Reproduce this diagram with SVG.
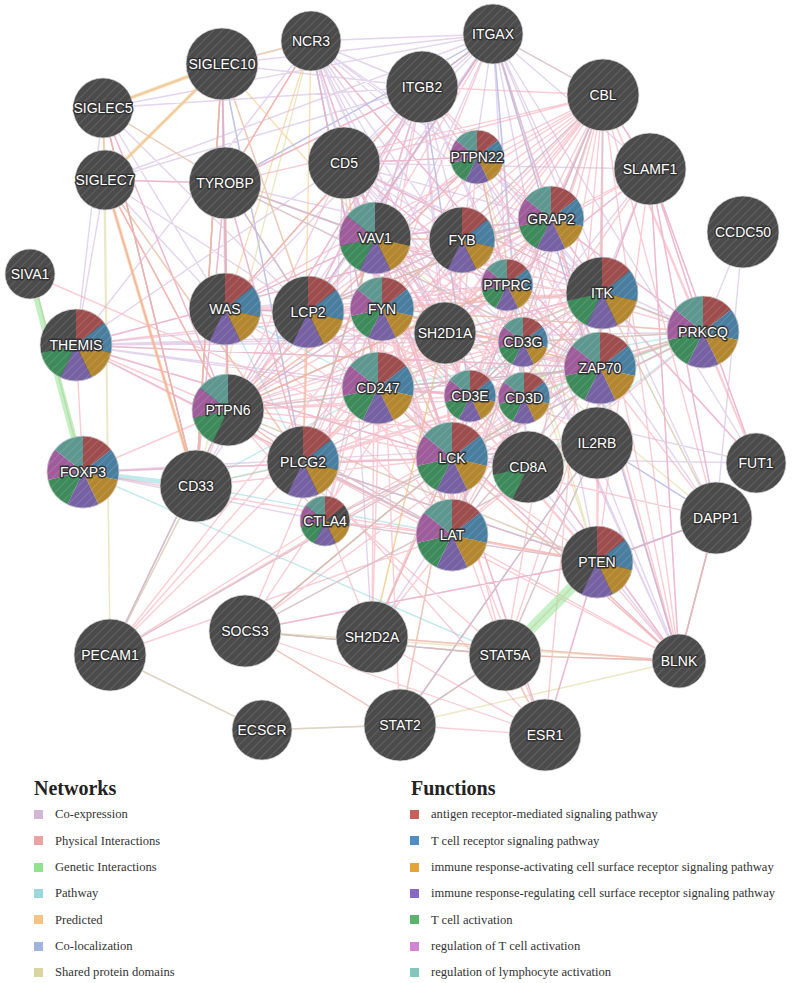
<svg xmlns="http://www.w3.org/2000/svg" xmlns:xlink="http://www.w3.org/1999/xlink" width="800" height="983" viewBox="0 0 800 983">
<style>
.e{fill:none;stroke-width:1.4;stroke-opacity:.55;stroke-linecap:round}
.coe{stroke:#cdb0e0}
.phy{stroke:#f7a2b0}
.gen{stroke:#8ee38e}
.pat{stroke:#8fd8e0}
.pre{stroke:#f8c27c}
.col{stroke:#9fb4e6}
.dom{stroke:#dcd598}
.bg{fill:#4b4b4b}
.hc{fill:url(#h);stroke:#d8d8d8;stroke-width:1;stroke-opacity:.7}
.lbl{font-family:"Liberation Sans",Arial,sans-serif;font-size:14px;fill:#fff;text-anchor:middle;dominant-baseline:central;stroke:#333;stroke-width:2.8;stroke-linejoin:round;paint-order:stroke}
.lt{font-family:"Liberation Serif","DejaVu Serif",serif;font-size:20px;font-weight:bold;fill:#222}
.li{font-family:"Liberation Serif","DejaVu Serif",serif;font-size:12.6px;fill:#333}
</style>
<defs>
<pattern id="h" width="6" height="6" patternUnits="userSpaceOnUse" patternTransform="rotate(45)"><line x1="0" y1="0" x2="0" y2="6" stroke="#fff" stroke-opacity=".2" stroke-width="1.3"/></pattern>
<g id="pie7">
<path id="s0" fill="#9e4d4e" d="M0 0L0-100A100 100 0 0 1 78.18-62.35Z"/>
<path id="s1" fill="#4a7e9f" d="M0 0L78.18-62.35A100 100 0 0 1 97.49 22.25Z"/>
<path id="s2" fill="#b3872f" d="M0 0L97.49 22.25A100 100 0 0 1 43.39 90.1Z"/>
<path id="s3" fill="#7661a2" d="M0 0L43.39 90.1A100 100 0 0 1-43.39 90.1Z"/>
<path id="s4" fill="#3e8a5b" d="M0 0L-43.39 90.1A100 100 0 0 1-97.49 22.25Z"/>
<path id="s5" fill="#9e5c9b" d="M0 0L-97.49 22.25A100 100 0 0 1-78.18-62.35Z"/>
<path id="s6" fill="#5e978f" d="M0 0L-78.18-62.35A100 100 0 0 1 0-100Z"/>
</g>
</defs>
<rect width="800" height="983" fill="#fff"/>
<g id="connectors">
<path class="e coe" d="M493 34 422 87M493 34 225 183M493 34 308 312M493 34 507 285M493 34 196 486M493 34 222 64M493 34 103 108M493 34 105 180M493 34 311 41M493 34 225 309M493 34 228 410M493 34 602 293M493 34 650 169M493 34 344 163M493 34 303 462M493 34 462 240M493 34 716 518M493 34 679 661M493 34 756 463M493 34 528 467M493 34 597 562M422 87 225 183M422 87 308 312M422 87 507 285M422 87 196 486M422 87 222 64M422 87 103 108M422 87 105 180M422 87 311 41M422 87 225 309M422 87 375 238M422 87 228 410M422 87 602 293M422 87 344 163M422 87 303 462M422 87 462 240M422 87 445 333M422 87 716 518M422 87 470 396M422 87 452 458M422 87 325 521M422 87 679 661M311 41 378 388M311 41 452 458M311 41 600 368M311 41 602 293M311 41 344 163M311 41 445 333M311 41 524 398M311 41 523 342M311 41 470 396M311 41 528 467M311 41 76 345M311 41 551 219M311 41 703 332M311 41 222 64M311 41 225 183M311 41 477 157M311 41 452 535M222 64 103 108M222 64 105 180M222 64 196 486M222 64 225 183M222 64 225 309M222 64 308 312M222 64 228 410M222 64 303 462M103 108 105 180M103 108 196 486M103 108 225 183M103 108 225 309M103 108 308 312M103 108 228 410M103 108 76 345M105 180 196 486M105 180 225 183M105 180 225 309M105 180 228 410M105 180 308 312M105 180 303 462M105 180 76 345M344 163 523 342M344 163 524 398M344 163 470 396M344 163 378 388M344 163 452 458M344 163 602 293M344 163 600 368M344 163 452 535M344 163 528 467M344 163 445 333M344 163 76 345M344 163 703 332M344 163 551 219M344 163 462 240M344 163 325 521M344 163 477 157M344 163 597 443M743 232 703 332M743 232 716 518M650 169 445 333M650 169 602 293M650 169 528 467M650 169 703 332M650 169 756 463M650 169 716 518M650 169 679 661M650 169 344 163M650 169 470 396M756 463 470 396M756 463 452 458M756 463 477 157M716 518 679 661M716 518 597 562M716 518 597 443M716 518 602 293M679 661 477 157M679 661 375 238M679 661 308 312M679 661 505 655M679 661 507 285M679 661 470 396M523 342 524 398M523 342 470 396M470 396 524 398M378 388 470 396M452 458 602 293M602 293 470 396M445 333 602 293M528 467 452 458M528 467 524 398M76 345 452 458M76 345 602 293M76 345 470 396M76 345 445 333M76 345 452 535M76 345 600 368M76 345 378 388M76 345 703 332M76 345 523 342M76 345 551 219M225 309 375 238M225 309 308 312M225 309 228 410M225 309 507 285M225 183 308 312M225 183 228 410M225 183 196 486M225 183 303 462M225 183 225 309M225 183 375 238M225 183 462 240M225 183 507 285M110 655 262 730M110 655 196 486M110 655 228 410M262 730 400 725M400 725 597 443M400 725 505 655M245 631 597 562M245 631 505 655M372 637 452 458M372 637 602 293M372 637 344 163M597 443 452 458M597 443 528 467M597 443 344 163M597 562 303 462M597 562 228 410M83 472 452 458M83 472 325 521M83 472 597 443M477 157 507 285M477 157 308 312M477 157 228 410M551 219 602 293M551 219 445 333M603 95 650 169M545 735 452 458M545 735 597 562"/>
<path class="e col" d="M493 34 422 87M493 34 308 312M493 34 225 183M493 34 600 368M716 518 679 661M378 388 600 368M452 458 528 467M222 64 228 410M222 64 196 486M103 108 196 486M311 41 378 388M422 87 470 396M493 34 679 661M716 518 597 443M225 309 308 312M225 183 228 410M382 309 228 410M603 95 452 458M507 285 228 410M462 240 308 312M375 238 551 219M597 562 716 518M222 64 303 462M493 34 524 398"/>
<path class="e dom" d="M105 180 110 655M103 108 110 655M222 64 196 486M105 180 196 486M103 108 222 64M105 180 222 64M245 631 505 655M245 631 400 725M505 655 400 725M679 661 505 655M679 661 245 631M679 661 400 725M679 661 372 637M679 661 452 458M372 637 445 333M372 637 452 458M245 631 452 458M400 725 452 458M716 518 679 661M716 518 602 293M716 518 375 238M228 410 477 157M228 410 507 285M477 157 507 285M597 562 228 410M597 562 477 157M597 562 507 285M523 342 470 396M523 342 524 398M470 396 524 398M602 293 600 368M452 458 382 309M452 458 602 293M382 309 602 293M600 368 382 309M600 368 452 458M703 332 452 458M703 332 382 309M703 332 602 293M303 462 375 238M303 462 551 219M308 312 551 219M110 655 196 486M196 486 311 41M110 655 262 730M545 735 505 655M262 730 400 725"/>
<path class="e pre" style="stroke-width:3.5" d="M103 108 222 64M105 180 222 64M105 180 196 486"/>
<path class="e pre" d="M103 108 105 180M222 64 311 41M103 108 196 486M222 64 196 486M105 180 228 410M103 108 225 183M225 183 311 41M225 183 228 410M375 238 462 240M308 312 551 219M303 462 308 312M452 458 378 388M470 396 524 398M228 410 303 462M196 486 303 462M311 41 225 309M222 64 308 312M105 180 303 462M382 309 600 368M452 535 597 562M445 333 372 637M462 240 228 410M375 238 303 462M507 285 228 410M344 163 378 388M452 458 245 631M222 64 375 238M422 87 225 309M311 41 303 462"/>
<path class="e pat" style="stroke-width:5" d="M83 472 196 486"/>
<path class="e pat" d="M83 472 505 655M602 293 703 332M452 458 378 388M452 458 600 368M600 368 452 535M452 535 303 462M303 462 375 238M375 238 308 312M308 312 551 219M551 219 462 240M470 396 524 398M523 342 470 396M378 388 600 368M597 443 505 655M245 631 505 655M400 725 505 655M400 725 597 443M245 631 597 443M196 486 303 462M196 486 452 535M228 410 452 535M110 655 228 410M493 34 422 87M493 34 603 95M225 183 308 312M225 183 600 368M225 183 375 238M228 410 600 368M303 462 602 293M196 486 378 388M325 521 452 458M325 521 597 562M597 562 303 462M110 655 452 458M245 631 452 458M225 309 378 388M225 309 303 462M382 309 523 342M382 309 470 396M382 309 603 95M603 95 600 368M603 95 452 535M603 95 551 219M602 293 452 535M703 332 452 458M703 332 378 388M703 332 600 368M703 332 528 467"/>
<path class="e gen" d="M703 332 523 342M703 332 524 398M703 332 470 396M600 368 452 458M602 293 378 388"/>
<path class="e phy" d="M452 458 375 238M452 458 462 240M452 458 551 219M452 458 507 285M452 458 602 293M452 458 308 312M452 458 382 309M452 458 445 333M452 458 523 342M452 458 378 388M452 458 470 396M452 458 524 398M452 458 600 368M452 458 228 410M452 458 303 462M452 458 528 467M452 458 452 535M452 458 325 521M452 458 477 157M452 458 225 309M452 458 703 332M452 458 603 95M382 309 375 238M382 309 462 240M382 309 551 219M382 309 507 285M382 309 602 293M382 309 308 312M382 309 445 333M382 309 523 342M382 309 378 388M382 309 470 396M382 309 524 398M382 309 600 368M382 309 228 410M382 309 303 462M382 309 452 535M382 309 325 521M382 309 477 157M382 309 225 309M382 309 703 332M382 309 603 95M382 309 528 467M600 368 375 238M600 368 462 240M600 368 551 219M600 368 507 285M600 368 602 293M600 368 308 312M600 368 445 333M600 368 523 342M600 368 378 388M600 368 470 396M600 368 524 398M600 368 228 410M600 368 303 462M600 368 452 535M600 368 325 521M600 368 477 157M600 368 225 309M600 368 703 332M600 368 603 95M600 368 528 467M452 535 375 238M452 535 462 240M452 535 551 219M452 535 507 285M452 535 602 293M452 535 308 312M452 535 445 333M452 535 523 342M452 535 378 388M452 535 470 396M452 535 524 398M452 535 228 410M452 535 303 462M452 535 325 521M452 535 225 309M452 535 703 332M452 535 603 95M452 535 528 467M378 388 375 238M378 388 462 240M378 388 551 219M378 388 507 285M378 388 602 293M378 388 308 312M378 388 445 333M378 388 523 342M378 388 470 396M378 388 524 398M378 388 228 410M378 388 303 462M378 388 603 95M378 388 528 467M378 388 325 521M375 238 462 240M375 238 551 219M375 238 507 285M375 238 602 293M375 238 308 312M375 238 445 333M375 238 523 342M375 238 470 396M375 238 524 398M375 238 228 410M375 238 303 462M375 238 225 309M375 238 603 95M375 238 703 332M308 312 462 240M308 312 551 219M308 312 507 285M308 312 602 293M308 312 445 333M308 312 523 342M308 312 470 396M308 312 524 398M308 312 228 410M308 312 303 462M308 312 225 309M308 312 603 95M602 293 462 240M602 293 551 219M602 293 507 285M602 293 445 333M602 293 523 342M602 293 470 396M602 293 524 398M602 293 228 410M602 293 303 462M602 293 225 309M602 293 603 95M602 293 703 332M303 462 462 240M303 462 551 219M303 462 507 285M303 462 445 333M303 462 470 396M303 462 524 398M303 462 228 410M303 462 603 95M303 462 703 332M303 462 325 521M603 95 462 240M603 95 551 219M603 95 507 285M603 95 445 333M603 95 523 342M603 95 470 396M603 95 524 398M603 95 228 410M603 95 703 332M603 95 477 157M603 95 225 309M228 410 507 285M228 410 445 333M228 410 470 396M228 410 524 398M228 410 523 342M228 410 325 521M228 410 225 309M228 410 462 240M470 396 524 398M470 396 523 342M523 342 524 398M507 285 523 342M507 285 470 396M507 285 524 398M445 333 523 342M445 333 470 396M507 285 551 219M507 285 462 240M507 285 445 333M507 285 477 157M551 219 462 240M551 219 445 333M551 219 703 332M445 333 462 240M650 169 445 333M650 169 382 309M650 169 452 458M650 169 703 332M650 169 756 463M650 169 716 518M650 169 602 293M650 169 228 410M650 169 603 95M650 169 597 562M650 169 679 661M756 463 703 332M756 463 603 95M756 463 602 293M716 518 452 458M716 518 603 95M716 518 597 562M716 518 679 661M716 518 600 368M597 562 452 458M597 562 603 95M597 562 382 309M597 562 452 535M597 562 303 462M597 562 600 368M597 562 505 655M597 562 602 293M597 562 597 443M679 661 603 95M679 661 303 462M679 661 452 535M679 661 375 238M679 661 382 309M679 661 452 458M679 661 600 368M679 661 551 219M679 661 308 312M679 661 602 293M679 661 372 637M679 661 505 655M505 655 597 443M505 655 452 458M505 655 382 309M505 655 603 95M505 655 245 631M505 655 545 735M505 655 400 725M505 655 228 410M505 655 600 368M597 443 452 458M597 443 245 631M597 443 600 368M597 443 382 309M597 443 603 95M597 443 228 410M597 443 400 725M597 443 602 293M545 735 452 458M545 735 382 309M545 735 603 95M545 735 597 562M545 735 400 725M545 735 245 631M545 735 303 462M400 725 245 631M400 725 452 458M400 725 382 309M245 631 452 458M245 631 600 368M245 631 382 309M245 631 603 95M245 631 597 562M372 637 452 458M372 637 382 309M372 637 545 735M372 637 603 95M372 637 375 238M372 637 303 462M372 637 452 535M110 655 228 410M110 655 303 462M110 655 452 458M110 655 382 309M110 655 325 521M110 655 603 95M110 655 452 535M110 655 600 368M196 486 228 410M196 486 103 108M196 486 105 180M196 486 222 64M196 486 452 458M196 486 225 183M225 183 228 410M225 183 308 312M225 183 600 368M225 183 105 180M225 183 303 462M225 183 375 238M225 183 603 95M222 64 228 410M222 64 225 183M103 108 228 410M105 180 228 410M311 41 378 388M311 41 225 183M311 41 600 368M311 41 452 458M422 87 493 34M422 87 603 95M422 87 308 312M422 87 382 309M422 87 375 238M422 87 228 410M422 87 225 183M422 87 225 309M422 87 551 219M493 34 603 95M493 34 375 238M493 34 308 312M493 34 382 309M493 34 551 219M344 163 452 458M344 163 382 309M344 163 603 95M344 163 600 368M344 163 470 396M344 163 228 410M344 163 602 293M344 163 477 157M477 157 375 238M477 157 228 410M477 157 551 219M76 345 452 458M76 345 551 219M76 345 303 462M76 345 452 535M76 345 600 368M76 345 382 309M76 345 228 410M38 296 83 472M30 274 452 458M83 472 228 410M83 472 452 458M83 472 597 562M83 472 76 345M325 521 597 562M703 332 523 342M703 332 470 396"/>
<path class="e gen" style="stroke-width:6;stroke-opacity:.55" d="M30 274 83 472"/>
<path class="e gen" style="stroke-width:11;stroke-opacity:.5" d="M505 655 597 562"/>
</g>
<g id="nodes">
<g id="SIGLEC10" transform="translate(222 64)"><circle r="36" class="bg"/><circle r="36" class="hc"/><text class="lbl">SIGLEC10</text></g>
<g id="NCR3" transform="translate(311 41)"><circle r="30" class="bg"/><circle r="30" class="hc"/><text class="lbl">NCR3</text></g>
<g id="ITGAX" transform="translate(493 34)"><circle r="30" class="bg"/><circle r="30" class="hc"/><text class="lbl">ITGAX</text></g>
<g id="ITGB2" transform="translate(422 87)"><circle r="36" class="bg"/><circle r="36" class="hc"/><text class="lbl">ITGB2</text></g>
<g id="CBL" transform="translate(603 95)"><circle r="36" class="bg"/><circle r="36" class="hc"/><text class="lbl">CBL</text></g>
<g id="SIGLEC5" transform="translate(103 108)"><circle r="30" class="bg"/><circle r="30" class="hc"/><text class="lbl">SIGLEC5</text></g>
<g id="SIGLEC7" transform="translate(105 180)"><circle r="30" class="bg"/><circle r="30" class="hc"/><text class="lbl">SIGLEC7</text></g>
<g id="TYROBP" transform="translate(225 183)"><circle r="36" class="bg"/><circle r="36" class="hc"/><text class="lbl">TYROBP</text></g>
<g id="CD5" transform="translate(344 163)"><circle r="36" class="bg"/><circle r="36" class="hc"/><text class="lbl">CD5</text></g>
<g id="PTPN22" transform="translate(477 157)"><use href="#pie7" transform="scale(.27)"/><circle r="27" class="hc"/><text class="lbl">PTPN22</text></g>
<g id="VAV1" transform="translate(375 238)"><circle r="36" class="bg"/><use href="#s2" transform="scale(.36)"/><use href="#s3" transform="scale(.36)"/><use href="#s4" transform="scale(.36)"/><use href="#s5" transform="scale(.36)"/><use href="#s6" transform="scale(.36)"/><circle r="36" class="hc"/><text class="lbl">VAV1</text></g>
<g id="FYB" transform="translate(462 240)"><circle r="33" class="bg"/><use href="#s0" transform="scale(.33)"/><use href="#s1" transform="scale(.33)"/><use href="#s2" transform="scale(.33)"/><use href="#s3" transform="scale(.33)"/><circle r="33" class="hc"/><text class="lbl">FYB</text></g>
<g id="GRAP2" transform="translate(551 219)"><use href="#pie7" transform="scale(.33)"/><circle r="33" class="hc"/><text class="lbl">GRAP2</text></g>
<g id="SLAMF1" transform="translate(650 169)"><circle r="36" class="bg"/><circle r="36" class="hc"/><text class="lbl">SLAMF1</text></g>
<g id="CCDC50" transform="translate(743 232)"><circle r="36" class="bg"/><circle r="36" class="hc"/><text class="lbl">CCDC50</text></g>
<g id="SIVA1" transform="translate(30 274)"><circle r="25" class="bg"/><circle r="25" class="hc"/><text class="lbl">SIVA1</text></g>
<g id="THEMIS" transform="translate(76 345)"><circle r="36" class="bg"/><use href="#s0" transform="scale(.36)"/><use href="#s1" transform="scale(.36)"/><use href="#s2" transform="scale(.36)"/><use href="#s3" transform="scale(.36)"/><use href="#s4" transform="scale(.36)"/><circle r="36" class="hc"/><text class="lbl">THEMIS</text></g>
<g id="WAS" transform="translate(225 309)"><circle r="36" class="bg"/><use href="#s0" transform="scale(.36)"/><use href="#s1" transform="scale(.36)"/><use href="#s2" transform="scale(.36)"/><use href="#s3" transform="scale(.36)"/><circle r="36" class="hc"/><text class="lbl">WAS</text></g>
<g id="LCP2" transform="translate(308 312)"><circle r="36" class="bg"/><use href="#s0" transform="scale(.36)"/><use href="#s1" transform="scale(.36)"/><use href="#s2" transform="scale(.36)"/><use href="#s3" transform="scale(.36)"/><circle r="36" class="hc"/><text class="lbl">LCP2</text></g>
<g id="FYN" transform="translate(382 309)"><use href="#pie7" transform="scale(.32)"/><circle r="32" class="hc"/><text class="lbl">FYN</text></g>
<g id="SH2D1A" transform="translate(445 333)"><circle r="31" class="bg"/><circle r="31" class="hc"/><text class="lbl">SH2D1A</text></g>
<g id="PTPRC" transform="translate(507 285)"><use href="#pie7" transform="scale(.26)"/><circle r="26" class="hc"/><text class="lbl">PTPRC</text></g>
<g id="ITK" transform="translate(602 293)"><circle r="36" class="bg"/><use href="#s0" transform="scale(.36)"/><use href="#s1" transform="scale(.36)"/><use href="#s2" transform="scale(.36)"/><use href="#s3" transform="scale(.36)"/><use href="#s4" transform="scale(.36)"/><circle r="36" class="hc"/><text class="lbl">ITK</text></g>
<g id="PRKCQ" transform="translate(703 332)"><use href="#pie7" transform="scale(.36)"/><circle r="36" class="hc"/><text class="lbl">PRKCQ</text></g>
<g id="CD3G" transform="translate(523 342)"><use href="#pie7" transform="scale(.25)"/><circle r="25" class="hc"/><text class="lbl">CD3G</text></g>
<g id="CD247" transform="translate(378 388)"><use href="#pie7" transform="scale(.36)"/><circle r="36" class="hc"/><text class="lbl">CD247</text></g>
<g id="CD3E" transform="translate(470 396)"><use href="#pie7" transform="scale(.26)"/><circle r="26" class="hc"/><text class="lbl">CD3E</text></g>
<g id="CD3D" transform="translate(524 398)"><use href="#pie7" transform="scale(.26)"/><circle r="26" class="hc"/><text class="lbl">CD3D</text></g>
<g id="ZAP70" transform="translate(600 368)"><use href="#pie7" transform="scale(.36)"/><circle r="36" class="hc"/><text class="lbl">ZAP70</text></g>
<g id="PTPN6" transform="translate(228 410)"><circle r="36" class="bg"/><use href="#s4" transform="scale(.36)"/><use href="#s5" transform="scale(.36)"/><use href="#s6" transform="scale(.36)"/><circle r="36" class="hc"/><text class="lbl">PTPN6</text></g>
<g id="FOXP3" transform="translate(83 472)"><use href="#pie7" transform="scale(.36)"/><circle r="36" class="hc"/><text class="lbl">FOXP3</text></g>
<g id="CD33" transform="translate(196 486)"><circle r="36" class="bg"/><circle r="36" class="hc"/><text class="lbl">CD33</text></g>
<g id="PLCG2" transform="translate(303 462)"><circle r="36" class="bg"/><use href="#s0" transform="scale(.36)"/><use href="#s1" transform="scale(.36)"/><use href="#s2" transform="scale(.36)"/><use href="#s3" transform="scale(.36)"/><circle r="36" class="hc"/><text class="lbl">PLCG2</text></g>
<g id="LCK" transform="translate(452 458)"><use href="#pie7" transform="scale(.36)"/><circle r="36" class="hc"/><text class="lbl">LCK</text></g>
<g id="CD8A" transform="translate(528 467)"><circle r="36" class="bg"/><use href="#s4" transform="scale(.36)"/><circle r="36" class="hc"/><text class="lbl">CD8A</text></g>
<g id="IL2RB" transform="translate(597 443)"><circle r="36" class="bg"/><circle r="36" class="hc"/><text class="lbl">IL2RB</text></g>
<g id="FUT1" transform="translate(756 463)"><circle r="30" class="bg"/><circle r="30" class="hc"/><text class="lbl">FUT1</text></g>
<g id="CTLA4" transform="translate(325 521)"><circle r="25" class="bg"/><use href="#s0" transform="scale(.25)"/><use href="#s2" transform="scale(.25)"/><use href="#s3" transform="scale(.25)"/><use href="#s4" transform="scale(.25)"/><use href="#s5" transform="scale(.25)"/><use href="#s6" transform="scale(.25)"/><circle r="25" class="hc"/><text class="lbl">CTLA4</text></g>
<g id="LAT" transform="translate(452 535)"><use href="#pie7" transform="scale(.36)"/><circle r="36" class="hc"/><text class="lbl">LAT</text></g>
<g id="DAPP1" transform="translate(716 518)"><circle r="36" class="bg"/><circle r="36" class="hc"/><text class="lbl">DAPP1</text></g>
<g id="PTEN" transform="translate(597 562)"><circle r="36" class="bg"/><use href="#s0" transform="scale(.36)"/><use href="#s1" transform="scale(.36)"/><use href="#s2" transform="scale(.36)"/><use href="#s3" transform="scale(.36)"/><circle r="36" class="hc"/><text class="lbl">PTEN</text></g>
<g id="PECAM1" transform="translate(110 655)"><circle r="36" class="bg"/><circle r="36" class="hc"/><text class="lbl">PECAM1</text></g>
<g id="SOCS3" transform="translate(245 631)"><circle r="36" class="bg"/><circle r="36" class="hc"/><text class="lbl">SOCS3</text></g>
<g id="SH2D2A" transform="translate(372 637)"><circle r="36" class="bg"/><circle r="36" class="hc"/><text class="lbl">SH2D2A</text></g>
<g id="STAT5A" transform="translate(505 655)"><circle r="36" class="bg"/><circle r="36" class="hc"/><text class="lbl">STAT5A</text></g>
<g id="BLNK" transform="translate(679 661)"><circle r="27" class="bg"/><circle r="27" class="hc"/><text class="lbl">BLNK</text></g>
<g id="ECSCR" transform="translate(262 730)"><circle r="30" class="bg"/><circle r="30" class="hc"/><text class="lbl">ECSCR</text></g>
<g id="STAT2" transform="translate(400 725)"><circle r="36" class="bg"/><circle r="36" class="hc"/><text class="lbl">STAT2</text></g>
<g id="ESR1" transform="translate(545 735)"><circle r="36" class="bg"/><circle r="36" class="hc"/><text class="lbl">ESR1</text></g>
</g>
<g id="legend-networks">
<text class="lt" x="34" y="795">Networks</text>
<rect x="34" y="810" width="9" height="9" fill="#d0b7d5"/><text class="li" x="55" y="818">Co-expression</text>
<rect x="34" y="836" width="9" height="9" fill="#eaa2a2"/><text class="li" x="55" y="844.5">Physical Interactions</text>
<rect x="34" y="863" width="9" height="9" fill="#90e190"/><text class="li" x="55" y="871">Genetic Interactions</text>
<rect x="34" y="889" width="9" height="9" fill="#9bd8de"/><text class="li" x="55" y="897">Pathway</text>
<rect x="34" y="915" width="9" height="9" fill="#f6c384"/><text class="li" x="55" y="923.5">Predicted</text>
<rect x="34" y="942" width="9" height="9" fill="#a0b3dc"/><text class="li" x="55" y="950">Co-localization</text>
<rect x="34" y="968" width="9" height="9" fill="#dad4a2"/><text class="li" x="55" y="976">Shared protein domains</text>
</g>
<g id="legend-functions">
<text class="lt" x="411" y="795">Functions</text>
<rect x="410" y="810" width="9" height="9" fill="#c5605c"/><text class="li" x="431" y="818">antigen receptor-mediated signaling pathway</text>
<rect x="410" y="836" width="9" height="9" fill="#4f8dc4"/><text class="li" x="431" y="844.5">T cell receptor signaling pathway</text>
<rect x="410" y="863" width="9" height="9" fill="#e3a43a"/><text class="li" x="431" y="871">immune response-activating cell surface receptor signaling pathway</text>
<rect x="410" y="889" width="9" height="9" fill="#8868c4"/><text class="li" x="431" y="897">immune response-regulating cell surface receptor signaling pathway</text>
<rect x="410" y="915" width="9" height="9" fill="#5bb26d"/><text class="li" x="431" y="923.5">T cell activation</text>
<rect x="410" y="942" width="9" height="9" fill="#d383d3"/><text class="li" x="431" y="950">regulation of T cell activation</text>
<rect x="410" y="968" width="9" height="9" fill="#82c6bd"/><text class="li" x="431" y="976">regulation of lymphocyte activation</text>
</g>
</svg>
